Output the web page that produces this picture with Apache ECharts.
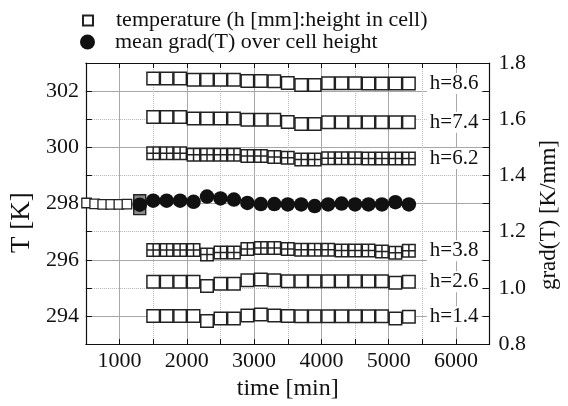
<!DOCTYPE html>
<html>
<head>
<meta charset="utf-8">
<script src="https://cdn.jsdelivr.net/npm/echarts@6/dist/echarts.min.js"></script>
<style>
html,body{margin:0;padding:0;background:#fff;}
#chart{width:568px;height:406px;}
</style>
</head>
<body>
<div id="chart"></div>
<script>
// ---------- data ----------
const TEMP = 'temperature (h [mm]:height in cell)';
const GRAD = 'mean grad(T) over cell height';

const times = [1500,1700,1900,2100,2300,2500,2700,2900,3100,3300,3500,3700,3900,4100,4300,4500,4700,4900,5100,5300];

const h86 = [302.45,302.45,302.45,302.40,302.40,302.40,302.40,302.36,302.36,302.35,302.29,302.22,302.22,302.28,302.28,302.28,302.27,302.27,302.27,302.27];
const h74 = [301.08,301.08,301.08,301.03,301.03,301.03,301.03,300.98,300.98,300.98,300.90,300.83,300.83,300.89,300.89,300.89,300.89,300.89,300.89,300.89];
const h62 = [299.79,299.79,299.79,299.74,299.74,299.74,299.74,299.69,299.69,299.66,299.63,299.57,299.57,299.61,299.61,299.61,299.60,299.60,299.60,299.60];
const h38 = [296.35,296.35,296.35,296.35,296.19,296.26,296.26,296.38,296.42,296.42,296.38,296.36,296.36,296.36,296.33,296.33,296.33,296.29,296.25,296.32];
const h26 = [295.22,295.22,295.22,295.22,295.07,295.15,295.15,295.27,295.30,295.27,295.24,295.24,295.24,295.24,295.24,295.24,295.24,295.24,295.18,295.22];
const h14 = [294.00,294.00,294.00,294.00,293.82,293.91,293.91,294.02,294.05,294.02,294.00,293.99,293.99,293.99,293.99,293.99,293.99,293.99,293.91,293.97];
const heightLabels = ['h=8.6','h=7.4','h=6.2','h=3.8','h=2.6','h=1.4'];

const earlyTimes = [510,630,750,870,990,1110];
const earlyT = [298.02,297.99,297.97,297.97,297.97,297.98];

const switchTimes = [1300,1300];
const switchT = [298.10,297.82];

const gradTimes = [1300,1500,1700,1900,2100,2300,2500,2700,2900,3100,3300,3500,3700,3900,4100,4300,4500,4700,4900,5100,5300];
const gradVals  = [1.296,1.310,1.310,1.310,1.306,1.325,1.318,1.314,1.302,1.298,1.298,1.297,1.297,1.291,1.297,1.300,1.297,1.297,1.297,1.305,1.297];

const xTicks = [1000,2000,3000,4000,5000,6000];
const yLeftTicks = [294,296,298,300,302];
const yRightTicks = [0.8,1.0,1.2,1.4,1.6,1.8];

// ---------- styles ----------
const FONT = 'Liberation Serif';
const INK = '#111';
const SQUARE = 'path://M0,0H10V10H0Z';
const CROSS = 'path://M0,0H10V10H0Z M5,0V10 M0,5H10';

function tempSeries(vals, label, symbol) {
  const data = times.map((t, i) => {
    const item = { value: [t, vals[i]] };
    if (i === times.length - 1) {
      item.label = {
        show: true, position: 'right', distance: 11, formatter: label,
        fontFamily: FONT, fontSize: 21, color: INK,
        backgroundColor: '#fff', padding: [0, 3]
      };
    }
    return item;
  });
  return {
    type: 'scatter', name: TEMP, xAxisIndex: 0, yAxisIndex: 0,
    symbol: symbol, symbolSize: 12.5,
    itemStyle: { color: '#fff', borderColor: '#222', borderWidth: 1.5, opacity: 1 },
    data: data, z: 3
  };
}

const series = [
  tempSeries(h86, heightLabels[0], SQUARE),
  tempSeries(h74, heightLabels[1], SQUARE),
  tempSeries(h62, heightLabels[2], CROSS),
  tempSeries(h38, heightLabels[3], CROSS),
  tempSeries(h26, heightLabels[4], SQUARE),
  tempSeries(h14, heightLabels[5], SQUARE),
  {
    type: 'scatter', name: TEMP, symbol: SQUARE, symbolSize: 9.5,
    itemStyle: { color: '#fff', borderColor: '#222', borderWidth: 1.3, opacity: 1 },
    data: earlyTimes.map((t, i) => [t, earlyT[i]]), z: 3
  },
  {
    type: 'scatter', name: TEMP, symbol: SQUARE, symbolSize: 12,
    itemStyle: { color: '#8a8a8a', borderColor: '#222', borderWidth: 1.4, opacity: 1 },
    data: switchTimes.map((t, i) => [t, switchT[i]]), z: 3
  },
  {
    type: 'scatter', name: GRAD, xAxisIndex: 0, yAxisIndex: 1,
    symbol: 'circle', symbolSize: 14.5,
    itemStyle: { color: INK, opacity: 1 },
    data: gradTimes.map((t, i) => [t, gradVals[i]]), z: 4
  }
];

const axisLineStyle = { show: true, lineStyle: { color: INK, width: 1.2 } };
const tickStyle = (len) => ({ show: true, inside: true, length: len, lineStyle: { color: INK, width: 1 } });
const labelStyle = { fontFamily: FONT, fontSize: 22, color: INK };

const option = {
  animation: false,
  backgroundColor: '#fff',
  textStyle: { fontFamily: FONT, color: INK },
  legend: [
    {
      data: [{ name: TEMP, icon: SQUARE }], orient: 'vertical', selectedMode: false,
      left: 82, top: 9.5, padding: 0, itemWidth: 10, itemHeight: 10,
      textStyle: { fontFamily: FONT, fontSize: 22, color: INK, lineHeight: 21, padding: [0, 0, 0, 18] }
    },
    {
      data: [{ name: GRAD, icon: 'circle' }], orient: 'vertical', selectedMode: false,
      left: 80, top: 31, padding: 0, itemWidth: 15, itemHeight: 15,
      textStyle: { fontFamily: FONT, fontSize: 22, color: INK, lineHeight: 21, padding: [0, 0, 0, 15] }
    }
  ],
  grid: { left: 83, right: 67, top: 63, bottom: 57 },
  xAxis: [
    {
      type: 'value', position: 'bottom', min: 500, max: 6500, interval: 500,
      name: 'time [min]', nameLocation: 'middle', nameGap: 31,
      nameTextStyle: { fontFamily: FONT, fontSize: 24, color: INK },
      axisLine: axisLineStyle, axisTick: tickStyle(5),
      axisLabel: Object.assign({ margin: 6, formatter: v => xTicks.indexOf(v) >= 0 ? String(v) : '' }, labelStyle),
      splitLine: { show: true, lineStyle: { color: '#b8b8b8', type: 'dotted', width: 1 } }
    },
    {
      type: 'value', position: 'top', min: 500, max: 6500, interval: 500,
      axisLine: axisLineStyle, axisTick: tickStyle(5), axisLabel: { show: false },
      splitLine: { show: true, lineStyle: { color: ['rgba(0,0,0,0)', '#a8a8a8'], width: 1 } }
    }
  ],
  yAxis: [
    {
      type: 'value', position: 'left', min: 293, max: 303, interval: 1,
      name: 'T [K]', nameLocation: 'middle', nameGap: 45,
      nameTextStyle: { fontFamily: FONT, fontSize: 27, color: INK, padding: [0, 38, 0, 0] },
      axisLine: axisLineStyle, axisTick: tickStyle(6),
      axisLabel: Object.assign({ margin: 7, formatter: v => yLeftTicks.indexOf(Math.round(v)) >= 0 && Math.abs(v - Math.round(v)) < 1e-6 ? String(Math.round(v)) : '' }, labelStyle),
      splitLine: { show: true, lineStyle: { color: '#b8b8b8', type: 'dotted', width: 1 } }
    },
    {
      type: 'value', position: 'right', min: 0.8, max: 1.8, interval: 0.1,
      name: 'grad(T) [K/mm]', nameLocation: 'middle', nameGap: 45,
      nameTextStyle: { fontFamily: FONT, fontSize: 23, color: INK, padding: [0, 23, 0, 0] },
      axisLine: axisLineStyle, axisTick: tickStyle(7),
      axisLabel: Object.assign({ margin: 9, formatter: v => {
        const hit = yRightTicks.find(t => Math.abs(t - v) < 1e-6);
        return hit !== undefined ? hit.toFixed(1) : '';
      } }, labelStyle),
      splitLine: { show: true, lineStyle: { color: ['rgba(0,0,0,0)', '#a8a8a8'], width: 1 } }
    }
  ],
  series: series
};

const chart = echarts.init(document.getElementById('chart'), null, { renderer: 'canvas' });
chart.setOption(option);
</script>
</body>
</html>
